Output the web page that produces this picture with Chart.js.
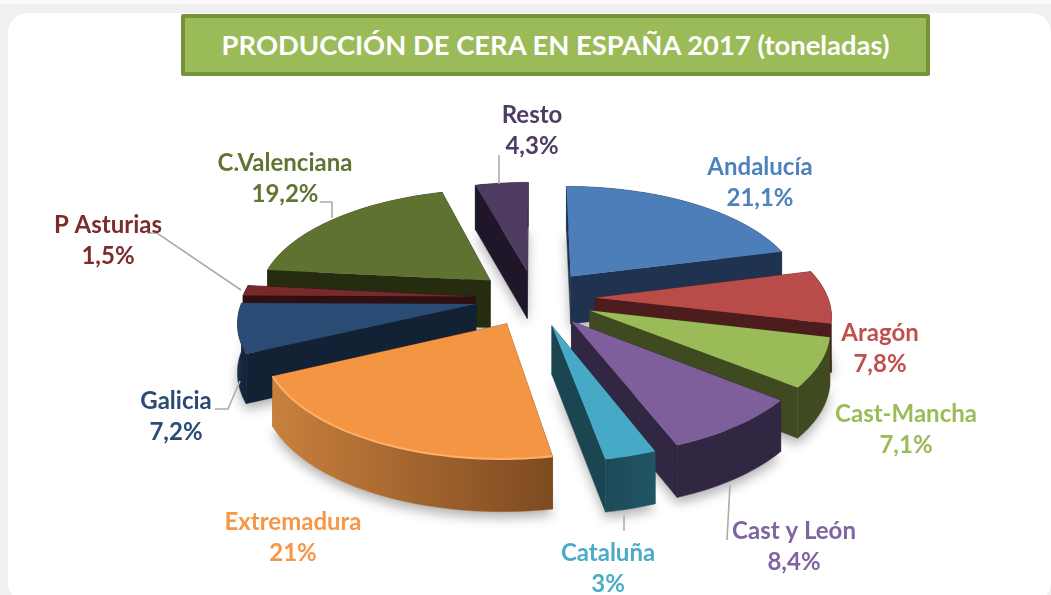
<!DOCTYPE html>
<html>
<head>
<meta charset="utf-8">
<script src="https://cdn.jsdelivr.net/npm/chart.js@4"></script>
<style>
html,body{margin:0;padding:0;width:1051px;height:595px;overflow:hidden;background:#f1f1f1}
body{background:linear-gradient(#fbfbfb 0,#fbfbfb 3px,#f0f0f0 5px)}
#card{position:absolute;left:8px;top:13px;width:1043px;height:590px;background:#fff;border-radius:20px}
#title{position:absolute;left:181px;top:14px;width:741px;height:54px;border:4px solid #76923c;border-radius:2px;background:#9bbb59;
color:#fff;font:bold 27.4px Lato,sans-serif;line-height:54px;text-align:center;white-space:nowrap}
canvas{position:absolute;left:0;top:0}
</style>
</head>
<body>
<div id="card"></div>
<canvas id="myChart" width="1051" height="595"></canvas>
<div id="title">PRODUCCIÓN DE CERA EN ESPAÑA 2017 (toneladas)</div>
<script>
var categories = ["Andalucía","Aragón","Cast-Mancha","Cast y León","Cataluña","Extremadura","Galicia","P Asturias","C.Valenciana","Resto"];
var shares = [21.1,7.8,7.1,8.4,3,21,7.2,1.5,19.2,4.3];

// colours of each slice
var topColors = ["#4c7fba","#b94b49","#9bbb59","#7e5f9c","#46a9c5","#f49544","#2a4b74","#772a2a","#5f722f","#4d3b60"];
var sideColors = ["#1f3350","#4d1c1c","#3f4a20","#322742","#1b4550","#7b4a20","#132135","#2f0f0f","#262c10","#1f1729"];
var wallLeft = ["#1f3350","#4d1c1c","#3f4a20","#322742","#1d4a58","#c9803d","#1a2e4a","#2f0f0f","#262c10","#1f1729"];
var wallRight = ["#1f3350","#4d1c1c","#3f4a20","#322742","#205566","#7d4a20","#132135","#2f0f0f","#262c10","#1f1729"];
var rimColors = [null,null,null,null,null,"#ffb066",null,null,null,null];
var labelColors = ["#4f81bd","#c0504d","#9bbb59","#8064a2","#4bacc6","#f79646","#2b4b74","#7b2c2c","#5f7530","#4f3c64"];

// label centres and leader lines, in page pixels
var labelSpots = [[760,167],[880,333],[906,414],[794,531],[608,553],[293,522],[176,401],[108,225],[285,163],[532,115]];
var leaders = [null,null,null,
  [[727,540],[730,485]],
  [[624,515],[624,531]],
  null,
  [[215,409],[228,409],[240,381]],
  [[147,233],[157,233],[241,290]],
  [[320,202],[332,202],[332,218]],
  [[499,155],[499,184]]];

var screenX = 535, screenY = 298, tilt = 0.465, viewDist = 1660, depth = 48;

// plane coords around the pie centre -> screen, with a bit of perspective
function project(u,v){
    var s = 1/(1 - v/viewDist);
    return {x:screenX + u*s, y:screenY + tilt*v*s, drop:depth*Math.sqrt(s), v:v};
}

function sliceOutline(el){
    var mid = (el.startAngle + el.endAngle)/2;
    var off = (el.options.offset || 0)/2;
    var ox = Math.cos(mid)*off, oy = Math.sin(mid)*off;
    var steps = Math.max(4, Math.ceil((el.endAngle - el.startAngle)*30));
    var arc = [];
    for (var i=0;i<=steps;i++){
        var a = el.startAngle + (el.endAngle - el.startAngle)*i/steps;
        arc.push(project(ox + Math.cos(a)*el.outerRadius, oy + Math.sin(a)*el.outerRadius));
    }
    return {tip:project(ox,oy), arc:arc, order:Math.sin(mid)};
}

function trace(ctx,pts,lower,joined){
    pts.forEach(function(p,i){
        var y = p.y + (lower ? p.drop : 0);
        if (i==0 && !joined) ctx.moveTo(p.x,y); else ctx.lineTo(p.x,y);
    });
}

function fillWall(ctx,pts,fill){
    ctx.beginPath();
    trace(ctx,pts,false);
    trace(ctx,pts.slice().reverse(),true,true);
    ctx.closePath();
    ctx.fillStyle = fill;
    ctx.fill();
    ctx.strokeStyle = fill;
    ctx.lineWidth = 0.5;
    ctx.stroke();
}

var pie3d = {
    id:"pie3d",
    beforeDatasetDraw:function(chart,args){
        var ctx = chart.ctx;
        var outlines = args.meta.data.map(function(el,i){
            var o = sliceOutline(el);
            o.index = i;
            return o;
        });

        // soft shadow on the card first
        ctx.save();
        ctx.shadowColor = "rgba(0,0,0,0.3)";
        ctx.shadowBlur = 12;
        ctx.shadowOffsetY = 6;
        ctx.fillStyle = "#fff";
        outlines.forEach(function(o){
            ctx.beginPath();
            trace(ctx,[o.tip].concat(o.arc),true);
            ctx.closePath();
            ctx.fill();
        });
        ctx.restore();

        // back to front
        outlines.slice().sort(function(a,b){return a.order-b.order;}).forEach(function(o){
            var i = o.index;
            var first = o.arc[0], last = o.arc[o.arc.length-1];
            var xs = o.arc.map(function(p){return p.x;});
            var grad = ctx.createLinearGradient(Math.min.apply(null,xs),0,Math.max.apply(null,xs),0);
            grad.addColorStop(0,wallLeft[i]);
            grad.addColorStop(1,wallRight[i]);
            var walls = [
                {pts:[o.tip,first], fill:sideColors[i], v:(o.tip.v+first.v)/2},
                {pts:[o.tip,last], fill:sideColors[i], v:(o.tip.v+last.v)/2},
                {pts:o.arc, fill:grad, v:o.arc[Math.floor(o.arc.length/2)].v}
            ];
            walls.sort(function(a,b){return a.v-b.v;});
            walls.forEach(function(w){fillWall(ctx,w.pts,w.fill);});

            ctx.beginPath();
            trace(ctx,[o.tip].concat(o.arc),false);
            ctx.closePath();
            ctx.fillStyle = topColors[i];
            ctx.fill();

            if (rimColors[i]){
                ctx.beginPath();
                trace(ctx,o.arc,false);
                ctx.strokeStyle = rimColors[i];
                ctx.lineWidth = 2;
                ctx.stroke();
            }
        });
        return false;
    },
    afterDatasetsDraw:function(chart){
        var ctx = chart.ctx;
        ctx.save();
        ctx.strokeStyle = "#acacac";
        ctx.lineWidth = 1.6;
        leaders.forEach(function(line){
            if (!line) return;
            ctx.beginPath();
            line.forEach(function(p,i){
                if (i==0) ctx.moveTo(p[0],p[1]); else ctx.lineTo(p[0],p[1]);
            });
            ctx.stroke();
        });
        ctx.font = "bold 24px Lato, sans-serif";
        ctx.textAlign = "center";
        ctx.textBaseline = "middle";
        categories.forEach(function(name,i){
            ctx.fillStyle = labelColors[i];
            ctx.fillText(name,labelSpots[i][0],labelSpots[i][1]);
            ctx.fillText(String(shares[i]).replace(".",",")+"%",labelSpots[i][0],labelSpots[i][1]+31);
        });
        ctx.restore();
    }
};

var myChart = document.getElementById("myChart").getContext("2d");
var chart = new Chart(myChart,{
    type:"pie",
    data:{
        labels:categories,
        datasets:[
            {
                data:shares,
                backgroundColor:topColors,
                borderWidth:0,
                offset:120,
                radius:233,
            },
        ],
    },
    options:{
        responsive:false,
        animation:false,
        plugins:{
            legend:{display:false},
            tooltip:{enabled:false},
        },
    },
    plugins:[pie3d],
});
</script>
</body>
</html>
